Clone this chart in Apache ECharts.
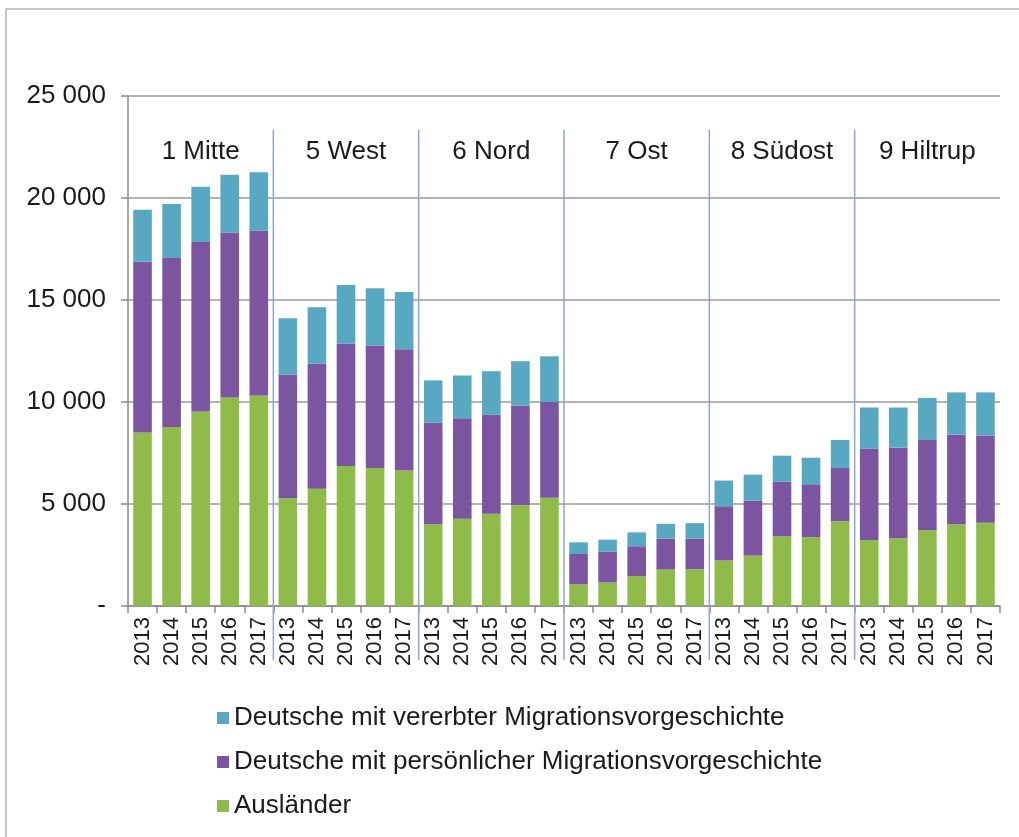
<!DOCTYPE html>
<html>
<head>
<meta charset="utf-8">
<style>
html,body{margin:0;padding:0;background:#fff;}
#chart{width:1019px;height:837px;}
</style>
<script src="https://cdn.jsdelivr.net/npm/echarts@6/dist/echarts.min.js"></script>
</head>
<body>
<div id="chart"></div>
<script>
// Kategorien: je Stadtbezirk 5 Jahre
var years = ['2013', '2014', '2015', '2016', '2017'];
var districts = ['1 Mitte', '5 West', '6 Nord', '7 Ost', '8 Südost', '9 Hiltrup'];
var seriesNames = ['Deutsche mit vererbter Migrationsvorgeschichte', 'Deutsche mit persönlicher Migrationsvorgeschichte', 'Ausländer'];
var yTicks = [0, 5000, 10000, 15000, 20000, 25000];

var auslaender = [8500, 8770, 9540, 10220, 10320, 5280, 5750, 6860, 6760, 6640, 4010, 4280, 4520, 4940, 5310,
	1060, 1150, 1470, 1790, 1800, 2230, 2480, 3420, 3370, 4160, 3240, 3320, 3710, 4010, 4080];
var persoenlich = [8380, 8290, 8300, 8090, 8090, 6070, 6140, 5990, 6000, 5940, 4980, 4920, 4850, 4890, 4690,
	1490, 1510, 1460, 1510, 1500, 2660, 2680, 2670, 2600, 2600, 4480, 4440, 4430, 4390, 4280];
var vererbt = [2540, 2650, 2710, 2830, 2850, 2760, 2760, 2880, 2820, 2810, 2070, 2100, 2140, 2170, 2240,
	570, 590, 680, 730, 760, 1260, 1280, 1280, 1300, 1380, 2010, 1970, 2060, 2070, 2110];

(function(){
	var myChart = echarts.init(document.getElementById('chart'));
	var font = 'Liberation Sans, Arial, sans-serif';
	var colors = ['#57a8c0', '#7b55a0', '#8fbb4a'];

	// x-Achse: 30 Kategorien
	var cats = [];
	for (var d = 0; d < districts.length; d++) {
		for (var j = 0; j < years.length; j++) cats.push(years[j]);
	}
	// Trennlinien und Bezirksnamen
	var sepData = [], labelData = [];
	for (var d = 0; d < districts.length; d++) {
		if (d > 0) sepData.push([d * years.length]);
		labelData.push([d * years.length + 2, districts[d]]);
	}

	function fmt(v) {
		if (v === 0) return '-';
		return String(v).replace(/\B(?=(\d{3})+(?!\d))/g, ' ');
	}

	var option = {
		animation: false,
		textStyle: { fontFamily: font },
		graphic: [{
			type: 'rect',
			shape: { x: 6, y: 9, width: 1100, height: 900 },
			style: { fill: 'none', stroke: '#c4c4c4', lineWidth: 2 }
		}],
		legend: {
			data: seriesNames,
			orient: 'vertical',
			left: 212,
			top: 700,
			itemWidth: 12,
			itemHeight: 12,
			itemGap: 18,
			icon: 'rect',
			textStyle: { fontSize: 26, color: '#1a1a1a', fontFamily: font }
		},
		grid: { left: 128, right: 19, top: 96, bottom: 231 },
		xAxis: {
			type: 'category',
			data: cats,
			axisLine: { lineStyle: { color: '#8a8a8a', width: 1.5 } },
			axisTick: { show: true, interval: 0, length: 7, lineStyle: { color: '#8a8a8a', width: 1.5 } },
			axisLabel: { interval: 0, rotate: 90, fontSize: 22, color: '#1a1a1a', margin: 11 }
		},
		yAxis: {
			type: 'value',
			min: 0,
			max: yTicks[yTicks.length - 1],
			interval: yTicks[1] - yTicks[0],
			axisLine: { show: true, lineStyle: { color: '#8a8a8a', width: 1.5 } },
			axisTick: { show: true, length: 7, lineStyle: { color: '#8a8a8a', width: 1.5 } },
			splitLine: { lineStyle: { color: '#9a9a9a', width: 1.5 } },
			axisLabel: { fontSize: 26, color: '#1a1a1a', margin: 22, formatter: fmt }
		},
		color: colors,
		series: [
			{ name: seriesNames[2], type: 'bar', stack: 'a', barCategoryGap: '36%', data: auslaender, itemStyle: { color: colors[2] } },
			{ name: seriesNames[1], type: 'bar', stack: 'a', data: persoenlich, itemStyle: { color: colors[1] } },
			{ name: seriesNames[0], type: 'bar', stack: 'a', data: vererbt, itemStyle: { color: colors[0] } },
			{
				type: 'custom',
				clip: false,
				silent: true,
				data: sepData,
				renderItem: function(params, api) {
					var i = api.value(0);
					var a = api.coord([i - 1, 0]), b = api.coord([i, 0]);
					var x = (a[0] + b[0]) / 2;
					var top = api.coord([i, 23350])[1];
					return {
						type: 'line',
						shape: { x1: x, y1: top, x2: x, y2: a[1] + 54 },
						style: { stroke: '#8ea4d8', lineWidth: 1.5 }
					};
				}
			},
			{
				type: 'custom',
				clip: false,
				silent: true,
				data: labelData,
				renderItem: function(params, api) {
					var p = api.coord([api.value(0), 22250]);
					return {
						type: 'text',
						style: {
							text: labelData[params.dataIndex][1],
							x: p[0], y: p[1],
							align: 'center', verticalAlign: 'middle',
							fill: '#1a1a1a', font: '26px ' + font
						}
					};
				}
			}
		]
	};
	myChart.setOption(option, true);
	window.onresize = myChart.resize;
}());
</script>
</body>
</html>
